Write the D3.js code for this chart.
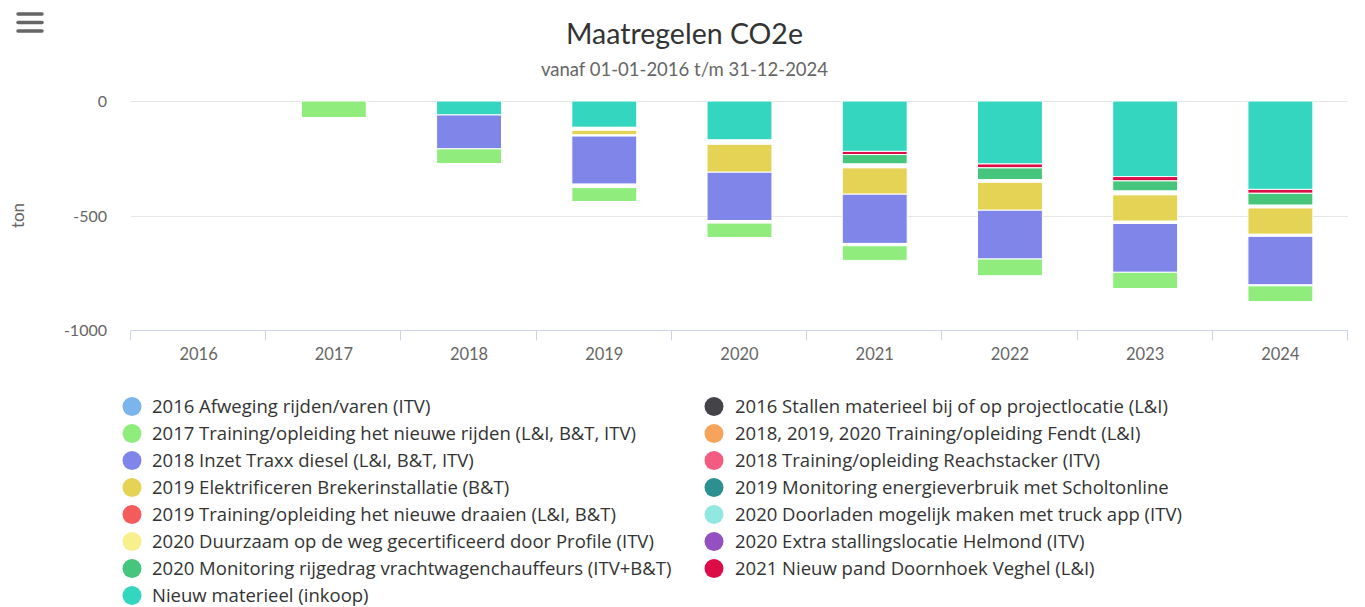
<!DOCTYPE html>
<html>
<head>
<meta charset="utf-8">
<script src="https://cdn.jsdelivr.net/npm/d3@7"></script>
<style>
  body { margin: 0; background: #fff; font-family: Lato, "Open Sans", sans-serif; }
  #chart-container { width: 1365px; height: 607px; }
</style>
</head>
<body>
<div id="chart-container"></div>
<script>
// categories
const years = ["2016", "2017", "2018", "2019", "2020", "2021", "2022", "2023", "2024"];

// series values (ton CO2e)
const afwegingRijdenVaren = [0, 0, 0, 0, 0, 0, 0, 0, 0];
const stallenMaterieel = [0, 0, 0, 0, 0, 0, 0, 0, 0];
const trainingNieuweRijden = [0, -72, -64, -61, -63, -64, -73, -71, -69];
const trainingFendt = [0, 0, 0, -15, -11, -10, 0, 0, -4];
const inzetTraxx = [0, 0, -148, -210, -211, -215, -213, -213, -212];
const trainingReachstacker = [0, 0, 0, -5, 0, 0, 0, -10, -9];
const elektrificerenBreker = [0, 0, 0, -20, -122, -115, -122, -115, -115];
const monitoringEnergie = [0, 0, 0, -13, -19, -17, -11, -17, -12];
const trainingDraaien = [0, 0, 0, 0, 0, 0, 0, 0, 0];
const doorladenTruckApp = [0, 0, 0, 0, 0, 0, 0, 0, 0];
const duurzaamOpDeWeg = [0, 0, 0, 0, 0, 0, 0, 0, 0];
const extraStalling = [0, 0, 0, 0, 0, 0, 0, 0, 0];
const monitoringRijgedrag = [0, 0, 0, 0, 0, -41, -52, -44, -52];
const nieuwPand = [0, 0, 0, 0, 0, -14, -17, -19, -17];
const nieuwMaterieel = [0, 0, -61, -115, -170, -220, -275, -330, -386];

const yTicks = [0, -500, -1000];

const series = [
  { name: "2016 Afweging rijden/varen (ITV)", color: "#7cb5ec", values: afwegingRijdenVaren },
  { name: "2016 Stallen materieel bij of op projectlocatie (L&I)", color: "#434348", values: stallenMaterieel },
  { name: "2017 Training/opleiding het nieuwe rijden (L&I, B&T, ITV)", color: "#90ed7d", values: trainingNieuweRijden },
  { name: "2018, 2019, 2020 Training/opleiding Fendt (L&I)", color: "#f7a35c", values: trainingFendt },
  { name: "2018 Inzet Traxx diesel (L&I, B&T, ITV)", color: "#8085e9", values: inzetTraxx },
  { name: "2018 Training/opleiding Reachstacker (ITV)", color: "#f15c80", values: trainingReachstacker },
  { name: "2019 Elektrificeren Brekerinstallatie (B&T)", color: "#e4d354", values: elektrificerenBreker },
  { name: "2019 Monitoring energieverbruik met Scholtonline", color: "#2b908f", values: monitoringEnergie },
  { name: "2019 Training/opleiding het nieuwe draaien (L&I, B&T)", color: "#f45b5b", values: trainingDraaien },
  { name: "2020 Doorladen mogelijk maken met truck app (ITV)", color: "#91e8e1", values: doorladenTruckApp },
  { name: "2020 Duurzaam op de weg gecertificeerd door Profile (ITV)", color: "#f7f08d", values: duurzaamOpDeWeg },
  { name: "2020 Extra stallingslocatie Helmond (ITV)", color: "#9350c0", values: extraStalling },
  { name: "2020 Monitoring rijgedrag vrachtwagenchauffeurs (ITV+B&T)", color: "#46c67d", values: monitoringRijgedrag },
  { name: "2021 Nieuw pand Doornhoek Veghel (L&I)", color: "#dc0c46", values: nieuwPand },
  { name: "Nieuw materieel (inkoop)", color: "#35d6bf", values: nieuwMaterieel }
];

// these show up only as white gaps in the stacks
const blankSeries = [
  "2018, 2019, 2020 Training/opleiding Fendt (L&I)",
  "2018 Training/opleiding Reachstacker (ITV)",
  "2019 Monitoring energieverbruik met Scholtonline"
];

const W = 1365, H = 607;
const plot = { left: 131, right: 1348, top: 101, bottom: 330 };

const svg = d3.select("#chart-container")
  .append("svg")
  .attr("width", W)
  .attr("height", H)
  .style("font-family", "Lato, 'Open Sans', sans-serif");

// table for d3.stack
const table = years.map((y, i) => {
  const row = { year: y };
  series.forEach(s => row[s.name] = s.values[i]);
  return row;
});

// last series sits next to zero, first one furthest away
const keys = series.map(s => s.name).slice().reverse();
const stacked = d3.stack().keys(keys).offset(d3.stackOffsetDiverging)(table);

const x = d3.scaleBand()
  .domain(years)
  .range([plot.left, plot.right]);

const y = d3.scaleLinear()
  .domain([-1000, 0])
  .range([plot.bottom, plot.top]);

// gridlines
svg.append("g")
  .selectAll("line")
  .data(yTicks)
  .join("line")
  .attr("x1", plot.left)
  .attr("x2", plot.right)
  .attr("y1", d => Math.round(y(d)) + 0.5)
  .attr("y2", d => Math.round(y(d)) + 0.5)
  .attr("stroke", "#e6e6e6")
  .attr("stroke-width", 1);

// y labels
svg.append("g")
  .selectAll("text")
  .data(yTicks)
  .join("text")
  .attr("x", 107)
  .attr("y", d => y(d) + 6)
  .attr("text-anchor", "end")
  .attr("fill", "#666")
  .style("font-size", "16px")
  .text(d => d);

svg.append("text")
  .attr("transform", `translate(24,${(plot.top + plot.bottom) / 2}) rotate(-90)`)
  .attr("text-anchor", "middle")
  .attr("fill", "#666")
  .style("font-size", "17px")
  .text("ton");

// columns
const colWidth = x.bandwidth() * 0.6 * 0.8;
const layers = svg.append("g")
  .selectAll("g")
  .data(stacked)
  .join("g")
  .attr("fill", d => series.find(s => s.name === d.key).color)
  .attr("fill-opacity", d => blankSeries.includes(d.key) ? 0 : 1);

layers.selectAll("rect")
  .data(d => d.filter(p => p[1] - p[0] !== 0))
  .join("rect")
  .attr("x", d => x(d.data.year) + (x.bandwidth() - colWidth) / 2)
  .attr("width", colWidth)
  .attr("y", d => y(d[1]))
  .attr("height", d => y(d[0]) - y(d[1]))
  .attr("stroke", "#fff")
  .attr("stroke-width", 1);

// x axis
const xAxis = svg.append("g")
  .attr("transform", `translate(0,${plot.bottom + 0.5})`);

xAxis.append("line")
  .attr("x1", plot.left)
  .attr("x2", plot.right)
  .attr("stroke", "#ccd6eb");

xAxis.selectAll(".tick")
  .data(years.concat(["end"]))
  .join("line")
  .attr("class", "tick")
  .attr("x1", d => Math.round(d === "end" ? plot.right : x(d)) - 0.5)
  .attr("x2", d => Math.round(d === "end" ? plot.right : x(d)) - 0.5)
  .attr("y1", 0)
  .attr("y2", 10)
  .attr("stroke", "#ccd6eb");

xAxis.selectAll("text")
  .data(years)
  .join("text")
  .attr("x", d => x(d) + x.bandwidth() / 2)
  .attr("y", 29)
  .attr("text-anchor", "middle")
  .attr("fill", "#666")
  .style("font-size", "16.5px")
  .text(d => d);

// title + subtitle
svg.append("text")
  .attr("x", W / 2 + 2)
  .attr("y", 44)
  .attr("text-anchor", "middle")
  .attr("fill", "#333")
  .style("font-size", "28.5px")
  .text("Maatregelen CO2e");

svg.append("text")
  .attr("x", W / 2 + 2)
  .attr("y", 76)
  .attr("text-anchor", "middle")
  .attr("fill", "#666")
  .style("font-size", "18.5px")
  .text("vanaf 01-01-2016 t/m 31-12-2024");

// menu button
svg.append("g")
  .selectAll("line")
  .data([14, 22.5, 31])
  .join("line")
  .attr("x1", 18)
  .attr("x2", 42)
  .attr("y1", d => d)
  .attr("y2", d => d)
  .attr("stroke", "#666")
  .attr("stroke-width", 3.5)
  .attr("stroke-linecap", "round");

// legend, two columns, filled row by row
const legend = svg.append("g");
series.forEach((s, i) => {
  const col = i % 2, row = Math.floor(i / 2);
  const item = legend.append("g")
    .attr("transform", `translate(${col === 0 ? 132 : 714},${406.5 + row * 27})`);

  item.append("circle")
    .attr("r", 9.5)
    .attr("fill", s.color);

  item.append("text")
    .attr("x", col === 0 ? 20 : 21)
    .attr("y", 6.5)
    .attr("fill", "#333")
    .style("font-family", "'Open Sans', sans-serif")
    .style("font-size", "18.5px")
    .text(s.name);
});
</script>
</body>
</html>
